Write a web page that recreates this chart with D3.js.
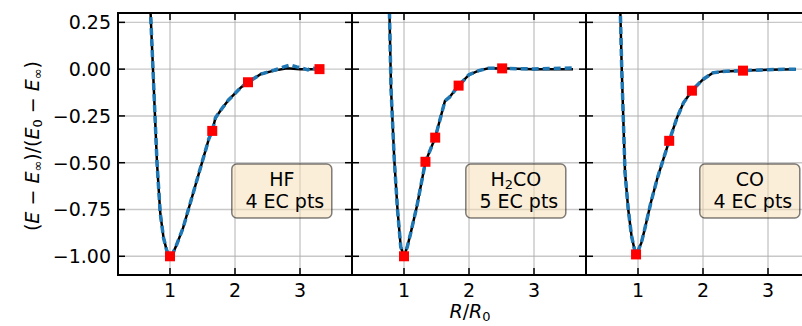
<!DOCTYPE html>
<html><head><meta charset="utf-8">
<script src="https://cdn.jsdelivr.net/npm/d3@7"></script>
<style>
body{margin:0;background:#fff;}
svg{display:block;font-family:"DejaVu Sans",sans-serif;}
</style></head><body>
<svg id="c" width="802" height="326"></svg>
<script>
// ---------- data ----------
const xTicks = [1, 2, 3];
const xTickLabels = ["1", "2", "3"];
const yTicks = [0.25, 0, -0.25, -0.5, -0.75, -1.0];
const yTickLabels = ["0.25", "0.00", "\u22120.25", "\u22120.50", "\u22120.75", "\u22121.00"];
const xDomain = [0.2, 3.8];
const yDomain = [-1.1, 0.3];

const molecules = ["HF", "H2CO", "CO"];
const ecLabels = ["4 EC pts", "5 EC pts", "4 EC pts"];

// HF
const hfExactR = [0.6, 0.7, 0.8, 0.85, 0.9, 0.95, 1.0, 1.05, 1.1, 1.2, 1.3, 1.4, 1.5, 1.6, 1.65, 1.7, 1.8, 1.9, 2.0, 2.1, 2.2, 2.4, 2.6, 2.8, 3.0, 3.2, 3.3];
const hfExactE = [1.1, 0.31, -0.5, -0.77, -0.9, -0.97, -1.0, -0.98, -0.94, -0.85, -0.73, -0.61, -0.49, -0.37, -0.33, -0.26, -0.21, -0.165, -0.13, -0.095, -0.07, -0.026, -0.008, 0.005, 0.0, 0.0, 0.0];
const hfEcR = [0.6, 0.7, 0.8, 0.85, 0.9, 0.95, 1.0, 1.05, 1.1, 1.2, 1.3, 1.4, 1.5, 1.6, 1.65, 1.7, 1.8, 1.9, 2.0, 2.1, 2.2, 2.4, 2.6, 2.75, 2.85, 2.95, 3.05, 3.12, 3.18, 3.25, 3.3];
const hfEcE = [1.1, 0.31, -0.5, -0.77, -0.9, -0.97, -1.0, -0.98, -0.94, -0.85, -0.73, -0.61, -0.49, -0.37, -0.33, -0.26, -0.21, -0.165, -0.13, -0.095, -0.07, -0.026, -0.006, 0.012, 0.022, 0.012, 0.004, -0.004, 0.01, 0.0, 0.0];
const hfPtsR = [1.0, 1.65, 2.2, 3.3];
const hfPtsE = [-1.0, -0.33, -0.07, 0.0];

// H2CO
const h2coExactR = [0.7, 0.75, 0.8, 0.85, 0.9, 0.95, 1.0, 1.05, 1.1, 1.2, 1.33, 1.48, 1.63, 1.7, 1.84, 2.0, 2.15, 2.3, 2.51, 3.0, 3.6];
const h2coExactE = [1.6, 0.75, -0.1, -0.48, -0.75, -0.95, -1.0, -0.95, -0.88, -0.73, -0.495, -0.366, -0.17, -0.15, -0.088, -0.03, -0.008, 0.005, 0.004, 0.0, 0.0];
const h2coEcR = [0.7, 0.75, 0.8, 0.85, 0.9, 0.95, 1.0, 1.05, 1.1, 1.2, 1.33, 1.48, 1.63, 1.7, 1.84, 2.0, 2.15, 2.3, 2.51, 3.0, 3.3, 3.6];
const h2coEcE = [1.6, 0.75, -0.1, -0.48, -0.75, -0.95, -1.0, -0.95, -0.88, -0.73, -0.495, -0.366, -0.17, -0.15, -0.088, -0.03, -0.008, 0.005, 0.004, 0.001, 0.004, 0.006];
const h2coPtsR = [1.0, 1.33, 1.48, 1.84, 2.51];
const h2coPtsE = [-1.0, -0.495, -0.366, -0.088, 0.004];

// CO
const coExactR = [0.65, 0.7, 0.75, 0.8, 0.85, 0.9, 0.95, 0.97, 1.0, 1.05, 1.1, 1.2, 1.3, 1.4, 1.48, 1.6, 1.7, 1.83, 2.0, 2.15, 2.3, 2.615, 3.0, 3.43];
const coExactE = [1.4, 0.7, 0.0, -0.55, -0.75, -0.89, -0.97, -0.99, -0.97, -0.93, -0.86, -0.71, -0.58, -0.47, -0.383, -0.26, -0.18, -0.115, -0.055, -0.02, -0.012, -0.008, -0.003, 0.0];
const coEcR = coExactR;
const coEcE = coExactE;
const coPtsR = [0.97, 1.48, 1.83, 2.615];
const coPtsE = [-0.99, -0.383, -0.115, -0.008];

const exactR = [hfExactR, h2coExactR, coExactR];
const exactE = [hfExactE, h2coExactE, coExactE];
const ecR = [hfEcR, h2coEcR, coEcR];
const ecE = [hfEcE, h2coEcE, coEcE];
const ptsR = [hfPtsR, h2coPtsR, coPtsR];
const ptsE = [hfPtsE, h2coPtsE, coPtsE];

// ---------- layout ----------
const svg = d3.select("#c");
const panelW = 234, topY = 13, botY = 275;
const lefts = [118, 352, 586];
const FS = 19;

const y = d3.scaleLinear().domain(yDomain).range([botY, topY]);

lefts.forEach((x0, i) => {
  const x = d3.scaleLinear().domain(xDomain).range([x0, x0 + panelW]);
  const g = svg.append("g");
  const clipId = "clip" + i;
  g.append("clipPath").attr("id", clipId).append("rect")
    .attr("x", x0).attr("y", topY).attr("width", panelW).attr("height", botY - topY);

  // grid
  g.append("g").selectAll("line").data(xTicks).join("line")
    .attr("x1", d => x(d)).attr("x2", d => x(d)).attr("y1", topY).attr("y2", botY)
    .attr("stroke", "#b0b0b0").attr("stroke-opacity", 0.7).attr("stroke-width", 1.4);
  g.append("g").selectAll("line").data(yTicks).join("line")
    .attr("x1", x0).attr("x2", x0 + panelW).attr("y1", d => y(d)).attr("y2", d => y(d))
    .attr("stroke", "#b0b0b0").attr("stroke-opacity", 0.7).attr("stroke-width", 1.4);

  const plot = g.append("g").attr("clip-path", `url(#${clipId})`);
  const line = d3.line().x(d => x(d[0])).y(d => y(d[1]));
  const exact = d3.zip(exactR[i], exactE[i]);
  const ec = d3.zip(ecR[i], ecE[i]);
  plot.append("path").attr("d", line(exact)).attr("fill", "none")
    .attr("stroke", "#000").attr("stroke-width", 2.5);
  plot.append("path").attr("d", line(ec)).attr("fill", "none")
    .attr("stroke", "#1f77b4").attr("stroke-width", 3.5).attr("stroke-dasharray", "7,4");
  const ms = 10;
  plot.selectAll("rect.m").data(d3.zip(ptsR[i], ptsE[i])).join("rect").attr("class", "m")
    .attr("x", d => x(d[0]) - ms / 2).attr("y", d => y(d[1]) - ms / 2)
    .attr("width", ms).attr("height", ms).attr("fill", "#ff0000");

  // label box
  const cx = x0 + 0.7 * panelW;
  g.append("rect").attr("x", cx - 50).attr("y", 164).attr("width", 100).attr("height", 54)
    .attr("rx", 5).attr("fill", "#f5deb3").attr("fill-opacity", 0.5)
    .attr("stroke", "#000").attr("stroke-opacity", 0.5).attr("stroke-width", 1.5);
  const t1 = g.append("text").attr("x", cx).attr("y", 186).attr("text-anchor", "middle")
    .attr("font-size", FS);
  const name = molecules[i];
  const m = name.match(/^([A-Z][a-z]?)(\d)(.*)$/);
  if (m) {
    t1.append("tspan").text(m[1]);
    t1.append("tspan").attr("font-size", 13).attr("dy", 3).text(m[2]);
    t1.append("tspan").attr("dy", -3).text(m[3]);
  } else t1.text(name);
  g.append("text").attr("x", cx).attr("y", 208).attr("text-anchor", "middle")
    .attr("font-size", FS).style("white-space", "pre").text(" " + ecLabels[i]);

  // ticks (inward, all sides)
  const tk = 7;
  const tg = g.append("g").attr("stroke", "#000").attr("stroke-width", 1.5);
  xTicks.forEach(v => {
    tg.append("line").attr("x1", x(v)).attr("x2", x(v)).attr("y1", botY).attr("y2", botY - tk);
    tg.append("line").attr("x1", x(v)).attr("x2", x(v)).attr("y1", topY).attr("y2", topY + tk);
  });
  yTicks.forEach(v => {
    tg.append("line").attr("x1", x0).attr("x2", x0 + tk).attr("y1", y(v)).attr("y2", y(v));
    tg.append("line").attr("x1", x0 + panelW).attr("x2", x0 + panelW - tk).attr("y1", y(v)).attr("y2", y(v));
  });
  // x tick labels
  g.append("g").selectAll("text").data(xTicks).join("text")
    .attr("x", d => x(d)).attr("y", 297).attr("text-anchor", "middle")
    .attr("font-size", FS).text((d, j) => xTickLabels[j]);
  // spines
  g.append("rect").attr("x", x0).attr("y", topY).attr("width", panelW).attr("height", botY - topY)
    .attr("fill", "none").attr("stroke", "#000").attr("stroke-width", 2);

  if (i === 0) {
    g.append("g").selectAll("text").data(yTicks).join("text")
      .attr("x", x0 - 7).attr("y", d => y(d)).attr("dy", "0.36em").attr("text-anchor", "end")
      .attr("font-size", FS).text((d, j) => yTickLabels[j]);
  }
});

// y label
const yl = svg.append("text").attr("transform", "translate(38.5,146) rotate(-90)")
  .attr("text-anchor", "middle").attr("font-size", FS);
function sub(t, s) { t.append("tspan").attr("font-size", 13).attr("dy", 3).text(s); }
function up(t, s) { t.append("tspan").attr("dy", -3).text(s); }
yl.append("tspan").text("(");
yl.append("tspan").attr("font-style", "italic").text("E");
yl.append("tspan").text(" \u2212 ");
yl.append("tspan").attr("font-style", "italic").text("E");
sub(yl, "\u221E");
up(yl, ")/(");
yl.append("tspan").attr("font-style", "italic").text("E");
sub(yl, "0");
up(yl, " \u2212 ");
yl.append("tspan").attr("font-style", "italic").text("E");
sub(yl, "\u221E");
up(yl, ")");

// x label
const xl = svg.append("text").attr("x", 470).attr("y", 318).attr("text-anchor", "middle")
  .attr("font-size", FS);
xl.append("tspan").attr("font-style", "italic").text("R");
xl.append("tspan").text("/");
xl.append("tspan").attr("font-style", "italic").text("R");
sub(xl, "0");
</script>
</body></html>
